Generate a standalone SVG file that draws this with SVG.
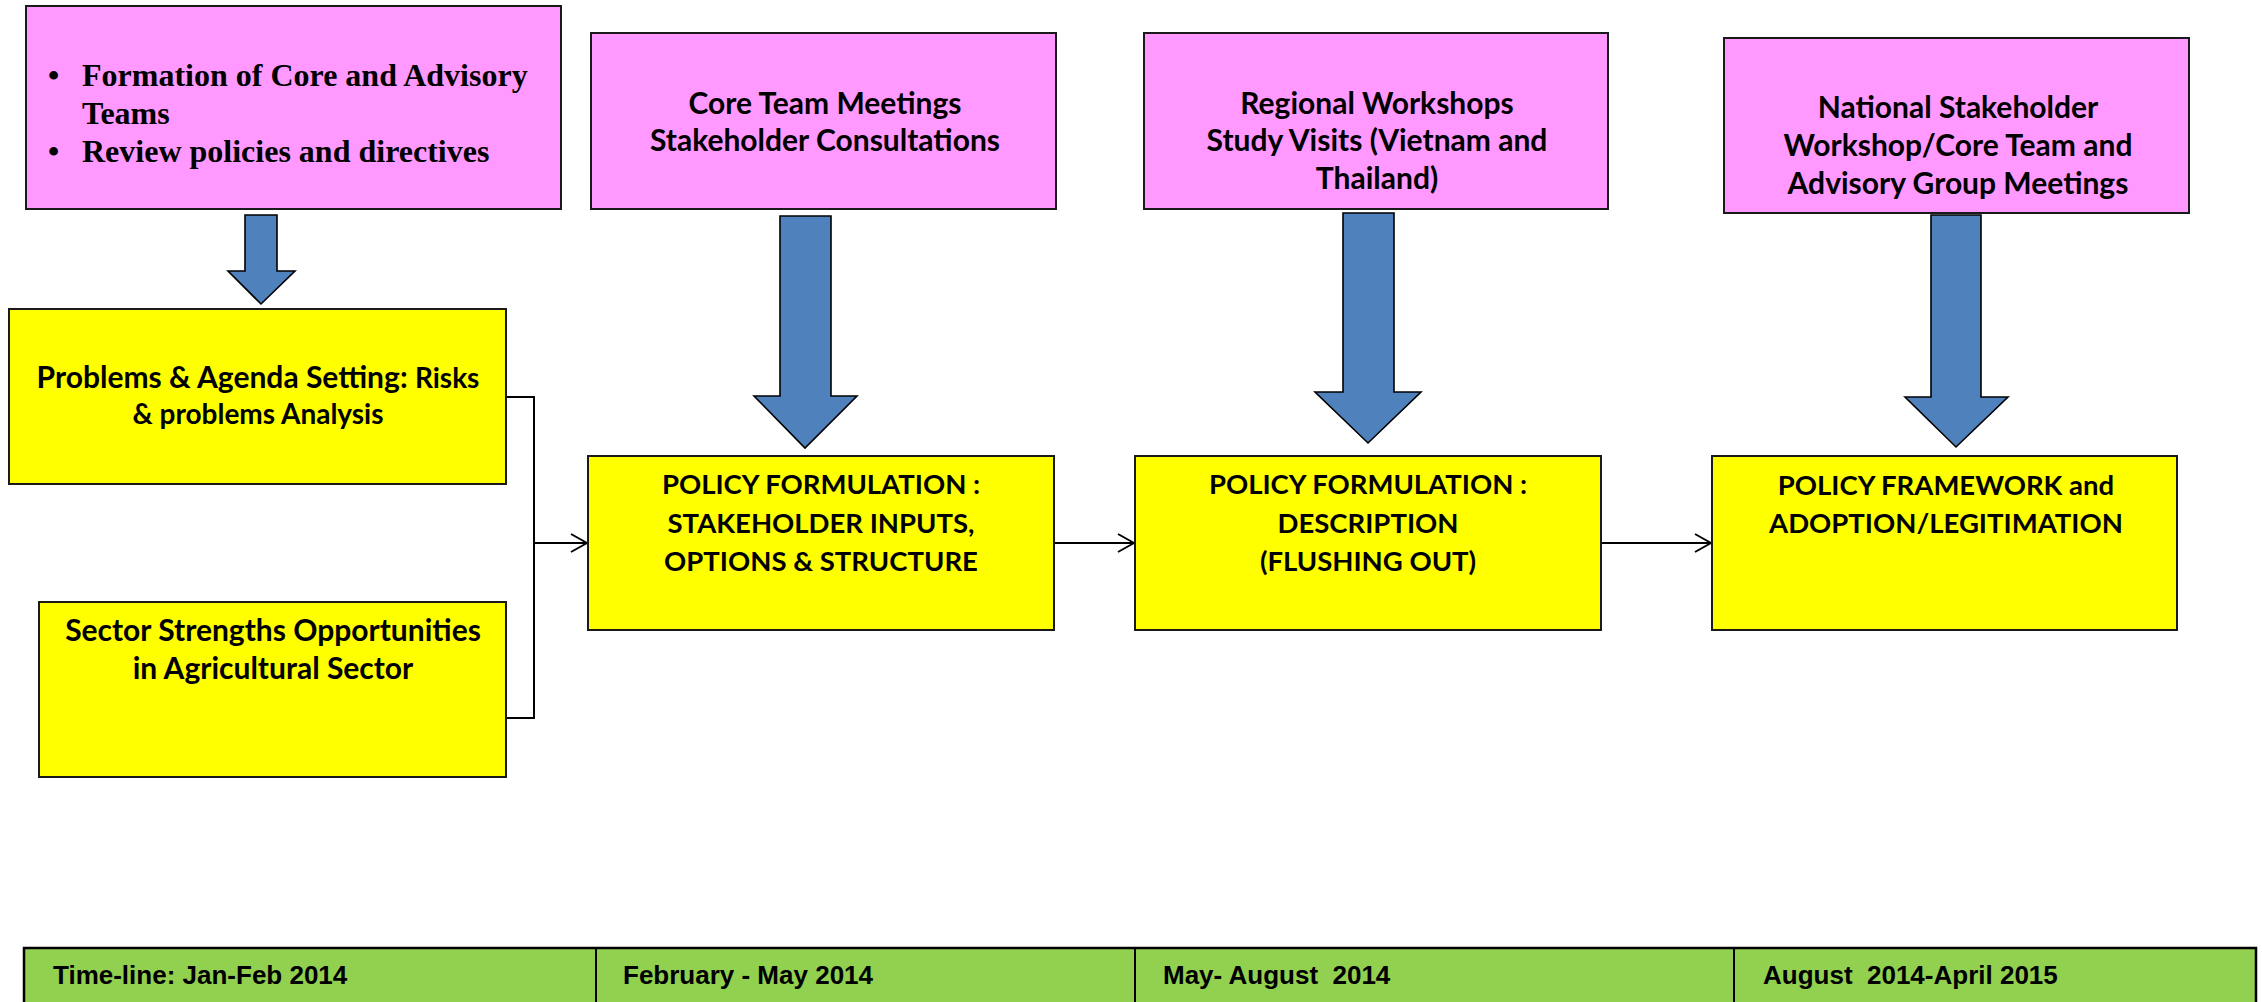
<svg xmlns="http://www.w3.org/2000/svg" width="2262" height="1002" viewBox="0 0 2262 1002">
<defs>
<style>
.pink{fill:#FF99FF;stroke:#1a1a1a;stroke-width:2}
.yel{fill:#FFFF00;stroke:#1a1a1a;stroke-width:2}
.blk{fill:#4F81BD;stroke:#000;stroke-width:1.6;stroke-linejoin:miter}
.t{font-family:Lato,"Liberation Sans",sans-serif;font-weight:bold;font-size:30px;fill:#000;text-anchor:middle}
.ts{font-size:28px}
.tc{font-size:27.5px}
.tm{font-family:"Liberation Serif","Times New Roman",serif;font-weight:bold;font-size:32px;fill:#000}
.tl{font-family:"Liberation Sans",Arial,sans-serif;font-weight:bold;font-size:26px;fill:#000;white-space:pre}
.con{fill:none;stroke:#000;stroke-width:2}
</style>
<marker id="ah" viewBox="0 0 18 20" refX="17" refY="10" markerWidth="18" markerHeight="20" markerUnits="userSpaceOnUse" orient="auto">
<path d="M1,1 L17,10 L1,19" fill="none" stroke="#000" stroke-width="2"/>
</marker>
</defs>
<rect width="2262" height="1002" fill="#fff"/>

<g id="connectors">
<path class="con" d="M506,397 H534 V718 H506"/>
<path class="con" d="M534,543 H587" marker-end="url(#ah)"/>
<path class="con" d="M1054,543 H1134" marker-end="url(#ah)"/>
<path class="con" d="M1601,543 H1711" marker-end="url(#ah)"/>
</g>

<g id="arrow1"><path class="blk" d="M245,215 H277 V271 H295 L261,304 L228,271 H245 Z"/></g>
<g id="arrow2"><path class="blk" d="M780,216 H831 V396 H857 L805,448 L754,396 H780 Z"/></g>
<g id="arrow3"><path class="blk" d="M1343,213 H1394 V392 H1421 L1368,443 L1315,392 H1343 Z"/></g>
<g id="arrow4"><path class="blk" d="M1931,215 H1981 V397 H2008 L1956,447 L1905,397 H1931 Z"/></g>

<g id="node-formation">
<rect class="pink" x="26" y="6" width="535" height="203"/>
<text class="tm" x="48" y="86">•</text>
<text class="tm" x="82" y="86">Formation of Core and Advisory</text>
<text class="tm" x="82" y="124">Teams</text>
<text class="tm" x="48" y="162">•</text>
<text class="tm" x="82" y="162">Review policies and directives</text>
</g>

<g id="node-problems">
<rect class="yel" x="9" y="309" width="497" height="175"/>
<text class="t" x="258" y="388">Problems &amp; Agenda Setting: <tspan class="ts">Risks</tspan></text>
<text class="t ts" x="258" y="424">&amp; problems Analysis</text>
</g>

<g id="node-strengths">
<rect class="yel" x="39" y="602" width="467" height="175"/>
<text class="t" x="273" y="641">Sector Strengths Opportunities</text>
<text class="t" x="273" y="679">in Agricultural Sector</text>
</g>

<g id="node-core">
<rect class="pink" x="591" y="33" width="465" height="176"/>
<text class="t" x="825" y="114">Core Team Meetings</text>
<text class="t" x="825" y="151">Stakeholder Consultations</text>
</g>

<g id="node-pf1">
<rect class="yel" x="588" y="456" width="466" height="174"/>
<text class="t tc" x="821" y="494">POLICY FORMULATION :</text>
<text class="t tc" x="821" y="533">STAKEHOLDER INPUTS,</text>
<text class="t tc" x="821" y="571">OPTIONS &amp; STRUCTURE</text>
</g>

<g id="node-regional">
<rect class="pink" x="1144" y="33" width="464" height="176"/>
<text class="t" x="1377" y="114">Regional Workshops</text>
<text class="t" x="1377" y="151">Study Visits (Vietnam and</text>
<text class="t" x="1377" y="189">Thailand)</text>
</g>

<g id="node-pf2">
<rect class="yel" x="1135" y="456" width="466" height="174"/>
<text class="t tc" x="1368" y="494">POLICY FORMULATION :</text>
<text class="t tc" x="1368" y="533">DESCRIPTION</text>
<text class="t tc" x="1368" y="571">(FLUSHING OUT)</text>
</g>

<g id="node-national">
<rect class="pink" x="1724" y="38" width="465" height="175"/>
<text class="t" x="1958" y="118">National Stakeholder</text>
<text class="t" x="1958" y="156">Workshop/Core Team and</text>
<text class="t" x="1958" y="194">Advisory Group Meetings</text>
</g>

<g id="node-framework">
<rect class="yel" x="1712" y="456" width="465" height="174"/>
<text class="t tc" x="1946" y="495">POLICY FRAMEWORK and</text>
<text class="t tc" x="1946" y="533">ADOPTION/LEGITIMATION</text>
</g>

<g id="timeline">
<rect x="24" y="948" width="2232" height="70" fill="#92D050" stroke="#000" stroke-width="2.5"/>
<line x1="596" y1="948" x2="596" y2="1002" stroke="#000" stroke-width="2"/>
<line x1="1135" y1="948" x2="1135" y2="1002" stroke="#000" stroke-width="2"/>
<line x1="1734" y1="948" x2="1734" y2="1002" stroke="#000" stroke-width="2"/>
<text class="tl" x="53" y="984">Time-line: Jan-Feb 2014</text>
<text class="tl" x="623" y="984">February - May 2014</text>
<text class="tl" x="1163" y="984">May- August  2014</text>
<text class="tl" x="1763" y="984">August  2014-April 2015</text>
</g>
</svg>
